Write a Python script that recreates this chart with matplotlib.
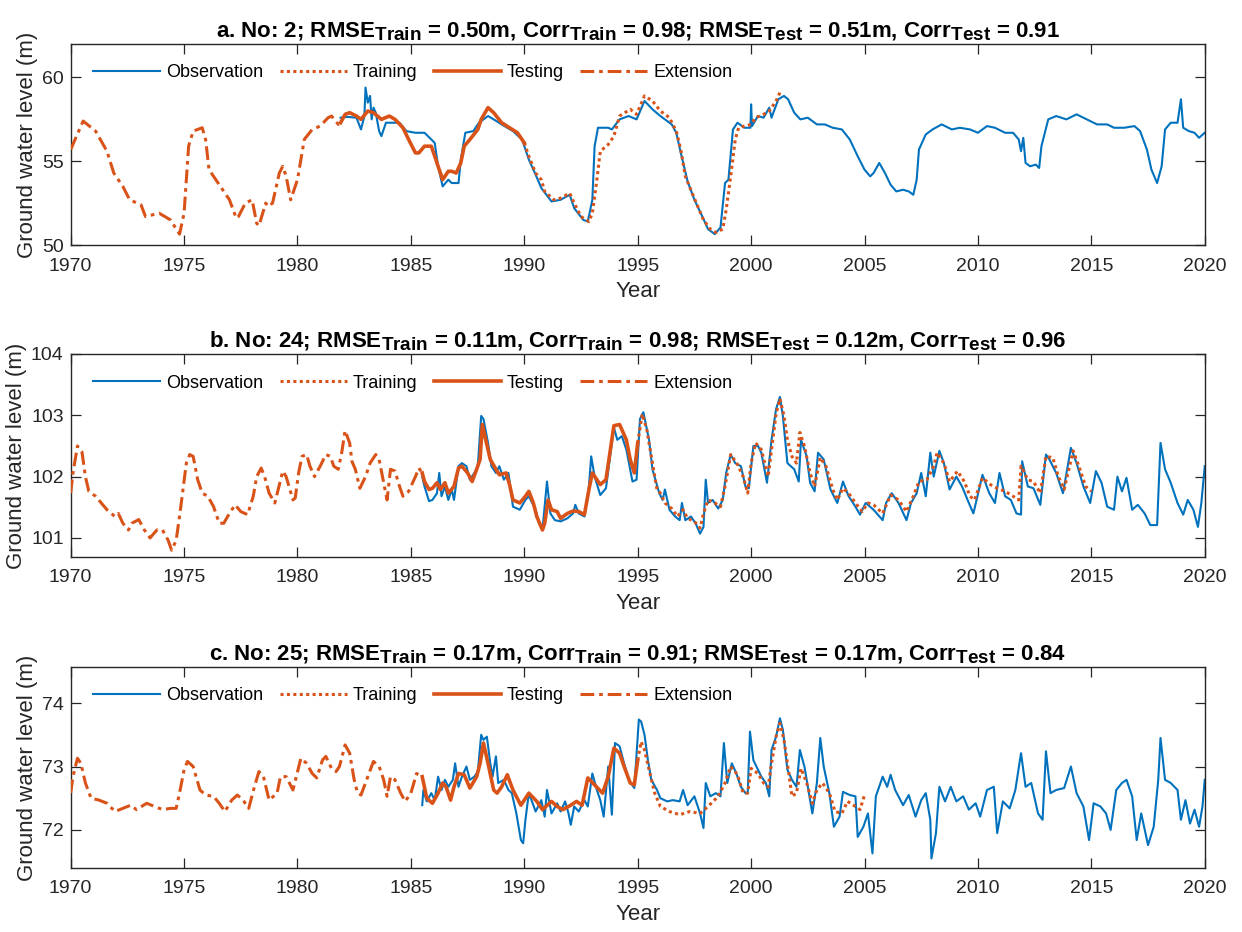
import matplotlib
matplotlib.use("Agg")
import matplotlib.pyplot as plt
import matplotlib._mathtext as _mt

# larger sub-scripts, closer to the reference rendering
_mt.SHRINK_FACTOR = 0.85

plt.rcParams['font.family'] = ['Liberation Sans', 'DejaVu Sans']
plt.rcParams['mathtext.fontset'] = 'custom'
plt.rcParams['mathtext.rm'] = 'Liberation Sans'
plt.rcParams['mathtext.bf'] = 'Liberation Sans:bold'

BLUE = '#0072BD'
ORANGE = '#D95319'
DARK = '#262626'

# ---------------- Panel a (well No: 2) ----------------
a_ext_year = [1970.0, 1970.55, 1971.1, 1971.6, 1971.9, 1972.3, 1972.6, 1973.1, 1973.3, 1973.9, 1974.4, 1974.8,
              1975.0, 1975.2, 1975.4, 1975.6, 1975.8, 1975.95, 1976.1, 1976.4, 1976.8, 1977.0, 1977.3, 1977.4,
              1977.7, 1978.0, 1978.2, 1978.3, 1978.6, 1978.7, 1978.9, 1979.2, 1979.35, 1979.5, 1979.7, 1979.9,
              1980.0, 1980.3, 1980.65, 1981.0, 1981.35, 1981.5, 1981.8, 1981.9]
a_ext_val = [55.7, 57.4, 56.8, 55.6, 54.3, 53.5, 52.7, 52.4, 51.7, 51.9, 51.5, 50.65,
             51.9, 55.9, 56.8, 56.9, 57.0, 56.3, 54.5, 53.9, 53.1, 52.7, 51.6, 51.7,
             52.5, 52.7, 51.3, 51.15, 52.5, 52.3, 52.5, 54.3, 54.7, 54.1, 52.7, 53.5,
             53.9, 56.3, 56.9, 57.1, 57.6, 57.7, 57.2, 57.3]
a_test_year = [1981.9, 1982.1, 1982.3, 1982.6, 1982.8, 1983.1, 1983.35, 1983.7, 1984.05, 1984.3, 1984.65, 1984.9,
               1985.2, 1985.35, 1985.6, 1985.9, 1986.05, 1986.2, 1986.4, 1986.65, 1986.8, 1987.0, 1987.2, 1987.35,
               1987.6, 1987.95, 1988.1, 1988.4, 1988.65, 1989.0, 1989.35, 1989.7, 1990.0]
a_test_val = [57.3, 57.8, 57.9, 57.7, 57.5, 58.0, 57.9, 57.5, 57.7, 57.5, 57.0, 56.3,
              55.5, 55.5, 55.9, 55.9, 55.3, 54.7, 53.9, 54.4, 54.4, 54.3, 54.9, 55.9,
              56.3, 56.9, 57.5, 58.2, 57.9, 57.3, 57.0, 56.7, 56.1]
a_train_year = [1990.0, 1990.2, 1990.5, 1990.75, 1990.9, 1991.3, 1991.6, 1992.0, 1992.2, 1992.5, 1992.85, 1993.0,
                1993.2, 1993.35, 1993.7, 1993.95, 1994.2, 1994.67, 1994.95, 1995.3, 1995.65, 1996.0, 1996.4,
                1996.7, 1996.9, 1997.1, 1997.4, 1997.65, 1997.9, 1998.2, 1998.45, 1998.75, 1998.9, 1999.1,
                1999.3, 1999.45, 1999.7, 2000.0, 2000.2, 2000.55, 2000.8, 2001.1, 2001.27]
a_train_val = [56.1, 55.3, 54.3, 53.9, 53.2, 52.7, 52.8, 53.1, 52.5, 51.7, 51.4, 51.9,
               53.9, 55.6, 56.0, 56.5, 57.7, 58.1, 57.8, 58.9, 58.6, 58.0, 57.6,
               56.8, 55.7, 54.1, 53.1, 52.3, 51.5, 50.95, 50.75, 50.95, 52.1, 54.1,
               56.3, 57.0, 57.1, 57.2, 57.6, 57.8, 58.0, 58.6, 59.1]
a_obs_year = [1981.9, 1982.2, 1982.6, 1982.8, 1982.95, 1983.0, 1983.1, 1983.2, 1983.27, 1983.35, 1983.45, 1983.6,
              1983.7, 1983.9, 1984.1, 1984.5, 1984.8, 1985.2, 1985.6, 1985.9, 1986.05, 1986.2, 1986.4, 1986.65,
              1986.8, 1987.1, 1987.2, 1987.4, 1987.75, 1988.0, 1988.4, 1988.65, 1989.0, 1989.5, 1989.9, 1990.2,
              1990.5, 1990.75, 1991.2, 1991.6, 1992.0, 1992.2, 1992.6, 1992.8, 1993.0, 1993.1, 1993.25, 1993.7,
              1993.86, 1994.2, 1994.6, 1994.95, 1995.3, 1995.65, 1996.0, 1996.5, 1996.7, 1996.9, 1997.2, 1997.5,
              1997.85, 1998.1, 1998.4, 1998.65, 1998.85, 1999.0, 1999.2, 1999.4, 1999.7, 1999.97, 2000.0, 2000.04,
              2000.3, 2000.55, 2000.8, 2000.9, 2001.2, 2001.45, 2001.63, 2001.9, 2002.17, 2002.5, 2002.9, 2003.25,
              2003.6, 2004.0, 2004.35, 2004.7, 2005.0, 2005.25, 2005.4, 2005.65, 2005.9, 2006.15, 2006.4, 2006.7,
              2006.95, 2007.15, 2007.3, 2007.4, 2007.7, 2008.0, 2008.4, 2008.85, 2009.2, 2009.65, 2010.0, 2010.4,
              2010.75, 2011.2, 2011.55, 2011.8, 2011.9, 2012.0, 2012.1, 2012.3, 2012.55, 2012.7, 2012.8, 2013.1,
              2013.45, 2013.9, 2014.35, 2014.8, 2015.25, 2015.7, 2016.0, 2016.45, 2016.9, 2017.15, 2017.45, 2017.65,
              2017.9, 2018.1, 2018.25, 2018.5, 2018.8, 2018.95, 2019.05, 2019.3, 2019.55, 2019.75, 2020.0]
a_obs_val = [57.6, 57.65, 57.6, 56.9, 57.7, 59.4, 58.5, 58.9, 57.5, 58.2, 57.9, 56.8,
             56.5, 57.3, 57.3, 57.3, 56.8, 56.7, 56.7, 56.3, 56.1, 54.7, 53.5, 53.9,
             53.7, 53.7, 55.1, 56.7, 56.8, 57.3, 57.7, 57.5, 57.2, 56.8, 56.3, 55.1,
             54.2, 53.4, 52.6, 52.7, 53.0, 52.2, 51.5, 51.4, 52.7, 55.9, 57.0, 57.0,
             56.9, 57.5, 57.7, 57.5, 58.6, 58.1, 57.7, 57.2, 56.7, 55.5, 53.8, 52.7,
             51.7, 50.95, 50.65, 51.05, 53.7, 53.9, 56.9, 57.3, 57.0, 57.0, 58.4, 57.1,
             57.7, 57.6, 58.2, 57.6, 58.7, 58.9, 58.7, 57.9, 57.5, 57.6, 57.2, 57.2,
             57.0, 56.9, 56.3, 55.3, 54.5, 54.1, 54.3, 54.9, 54.3, 53.6, 53.2, 53.3,
             53.2, 53.0, 53.9, 55.7, 56.6, 56.9, 57.2, 56.9, 57.0, 56.9, 56.7, 57.1,
             57.0, 56.7, 56.7, 56.3, 55.6, 56.4, 54.9, 54.7, 54.8, 54.6, 55.9, 57.5,
             57.7, 57.5, 57.8, 57.5, 57.2, 57.2, 57.0, 57.0, 57.1, 56.8, 55.7, 54.5,
             53.7, 54.7, 56.9, 57.3, 57.3, 58.7, 57.0, 56.8, 56.7, 56.4, 56.7]

# ---------------- Panel b (well No: 24) ----------------
b_ext_year = [1970.0, 1970.1, 1970.3, 1970.5, 1970.65, 1970.8, 1971.1, 1971.35, 1971.6, 1971.95, 1972.1, 1972.3,
              1972.55, 1972.7, 1973.0, 1973.25, 1973.5, 1973.8, 1974.05, 1974.3, 1974.45, 1974.65, 1974.8, 1975.1,
              1975.25, 1975.4, 1975.6, 1975.8, 1976.05, 1976.3, 1976.55, 1976.75, 1977.0, 1977.25, 1977.5, 1977.8,
              1978.05, 1978.2, 1978.4, 1978.55, 1978.75, 1979.0, 1979.15, 1979.35, 1979.5, 1979.8, 1979.9, 1980.05,
              1980.2, 1980.4, 1980.55, 1980.75, 1981.0, 1981.25, 1981.45, 1981.6, 1981.8, 1981.95, 1982.1, 1982.3,
              1982.4, 1982.55, 1982.75, 1983.0, 1983.2, 1983.45, 1983.6, 1983.8, 1983.95, 1984.1, 1984.3, 1984.5,
              1984.65, 1984.9, 1985.2, 1985.35, 1985.5]
b_ext_val = [101.73, 102.06, 102.5, 102.4, 102.0, 101.76, 101.68, 101.57, 101.46, 101.35, 101.4, 101.24,
             101.13, 101.24, 101.3, 101.13, 101.0, 101.13, 101.13, 100.96, 100.8, 100.96, 101.35, 102.22,
             102.36, 102.33, 101.95, 101.73, 101.68, 101.51, 101.24, 101.24, 101.4, 101.54, 101.43, 101.38,
             101.68, 102.0, 102.14, 102.0, 101.73, 101.57, 101.79, 102.09, 102.0, 101.62, 101.65, 102.06,
             102.33, 102.36, 102.17, 102.0, 102.17, 102.36, 102.33, 102.17, 102.12, 102.39, 102.75, 102.55,
             102.25, 102.12, 101.81, 102.0, 102.22, 102.36, 102.28, 101.9, 101.62, 102.12, 102.09, 101.84,
             101.68, 101.76, 102.0, 102.14, 102.06]
b_test_year = [1985.5, 1985.6, 1985.8, 1985.95, 1986.15, 1986.3, 1986.5, 1986.65, 1986.9, 1987.1, 1987.25, 1987.5,
               1987.7, 1987.9, 1988.05, 1988.15, 1988.3, 1988.5, 1988.75, 1988.9, 1989.2, 1989.35, 1989.5, 1989.8,
               1990.05, 1990.2, 1990.4, 1990.55, 1990.8, 1990.9, 1991.05, 1991.2, 1991.45, 1991.6, 1991.9, 1992.15,
               1992.4, 1992.65, 1992.85, 1993.0, 1993.2, 1993.35, 1993.6, 1993.95, 1994.2, 1994.5, 1994.67, 1994.85,
               1995.0]
b_test_val = [102.06, 101.92, 101.79, 101.81, 101.9, 101.79, 101.9, 101.73, 101.84, 102.14, 102.17, 102.06,
              101.92, 102.12, 102.28, 102.85, 102.6, 102.28, 102.12, 102.03, 102.06, 101.87, 101.62, 101.57,
              101.68, 101.76, 101.57, 101.35, 101.13, 101.24, 101.62, 101.46, 101.43, 101.32, 101.4, 101.44,
              101.43, 101.38, 101.79, 102.06, 101.95, 101.87, 101.95, 102.83, 102.85, 102.6, 102.28, 102.06,
              102.55]
b_train_year = [1995.0, 1995.2, 1995.4, 1995.6, 1995.85, 1996.0, 1996.2, 1996.5, 1996.75, 1997.0, 1997.2, 1997.5,
                1997.75, 1997.9, 1998.1, 1998.4, 1998.65, 1998.85, 1999.1, 1999.4, 1999.65, 1999.85, 2000.0, 2000.2,
                2000.45, 2000.75, 2000.9, 2001.1, 2001.27, 2001.45, 2001.6, 2001.8, 2002.0, 2002.15, 2002.35, 2002.6,
                2002.8, 2003.05, 2003.3, 2003.6, 2003.8, 2004.05, 2004.3, 2004.6, 2004.9, 2005.15, 2005.4, 2005.8,
                2006.15, 2006.5, 2006.85, 2007.15, 2007.4, 2007.75, 2008.05, 2008.2, 2008.5, 2008.75, 2009.1, 2009.4,
                2009.65, 2009.85, 2010.2, 2010.55, 2010.85, 2011.2, 2011.55, 2011.8, 2011.9, 2012.2, 2012.45, 2012.75,
                2013.0, 2013.3, 2013.55, 2013.8, 2014.2, 2014.45, 2014.75, 2015.0]
b_train_val = [102.55, 103.02, 102.77, 102.33, 101.79, 101.73, 101.57, 101.48, 101.35, 101.46, 101.32, 101.27,
               101.16, 101.4, 101.62, 101.57, 101.51, 101.84, 102.36, 102.2, 102.0, 101.73, 102.22, 102.55,
               102.44, 102.0, 102.44, 103.02, 103.27, 102.99, 102.6, 102.33, 102.22, 102.72, 102.5, 102.06,
               101.84, 102.31, 102.17, 101.79, 101.62, 101.81, 101.73, 101.57, 101.43, 101.57, 101.54, 101.4,
               101.7, 101.62, 101.43, 101.68, 101.92, 101.95, 102.17, 102.39, 102.22, 101.92, 102.09, 101.92,
               101.68, 101.62, 101.98, 101.87, 101.81, 101.76, 101.68, 101.62, 102.17, 101.95, 101.92, 101.73,
               102.33, 102.31, 102.0, 101.79, 102.42, 102.17, 101.84, 101.76]
b_obs_year = [1985.5, 1985.6, 1985.8, 1985.95, 1986.15, 1986.25, 1986.35, 1986.5, 1986.65, 1986.8, 1986.9, 1987.1,
              1987.25, 1987.45, 1987.6, 1987.8, 1987.95, 1988.1, 1988.2, 1988.4, 1988.55, 1988.75, 1988.9, 1989.1,
              1989.3, 1989.5, 1989.8, 1990.05, 1990.2, 1990.5, 1990.65, 1990.8, 1991.0, 1991.15, 1991.35, 1991.6,
              1991.9, 1992.15, 1992.25, 1992.4, 1992.65, 1992.85, 1992.95, 1993.1, 1993.35, 1993.6, 1993.95, 1994.1,
              1994.3, 1994.5, 1994.77, 1994.95, 1995.1, 1995.25, 1995.5, 1995.65, 1995.95, 1996.1, 1996.2, 1996.4,
              1996.65, 1996.85, 1996.95, 1997.1, 1997.35, 1997.55, 1997.75, 1997.9, 1998.0, 1998.1, 1998.3, 1998.55,
              1998.75, 1998.9, 1999.1, 1999.3, 1999.55, 1999.75, 1999.9, 2000.1, 2000.3, 2000.45, 2000.7, 2000.9,
              2001.1, 2001.27, 2001.4, 2001.6, 2001.9, 2002.1, 2002.2, 2002.45, 2002.6, 2002.8, 2002.95, 2003.2,
              2003.5, 2003.8, 2004.05, 2004.3, 2004.6, 2004.8, 2005.05, 2005.4, 2005.8, 2005.95, 2006.2, 2006.5,
              2006.85, 2007.05, 2007.3, 2007.5, 2007.7, 2007.9, 2008.05, 2008.3, 2008.5, 2008.75, 2009.05, 2009.3,
              2009.6, 2009.8, 2010.2, 2010.5, 2010.75, 2010.95, 2011.2, 2011.45, 2011.7, 2011.9, 2011.95, 2012.2,
              2012.45, 2012.75, 2013.0, 2013.15, 2013.45, 2013.75, 2014.1, 2014.35, 2014.65, 2014.95, 2015.2, 2015.45,
              2015.7, 2016.0, 2016.15, 2016.35, 2016.55, 2016.8, 2017.05, 2017.35, 2017.6, 2017.9, 2018.05, 2018.25,
              2018.5, 2018.8, 2019.05, 2019.25, 2019.5, 2019.7, 2019.85, 2020.0]
b_obs_val = [102.0, 101.84, 101.6, 101.62, 101.73, 102.06, 101.68, 101.84, 101.62, 101.79, 101.62, 102.17,
             102.22, 102.17, 101.95, 102.06, 102.17, 102.99, 102.94, 102.55, 102.17, 102.06, 102.17, 101.95,
             102.06, 101.51, 101.46, 101.62, 101.68, 101.46, 101.24, 101.13, 101.92, 101.4, 101.29, 101.27,
             101.32, 101.4, 101.54, 101.4, 101.35, 101.84, 102.33, 102.0, 101.7, 101.81, 102.8, 102.6,
             102.66, 102.44, 101.92, 101.95, 102.94, 103.05, 102.6, 102.12, 101.73, 101.62, 101.79, 101.46,
             101.35, 101.29, 101.57, 101.29, 101.35, 101.24, 101.07, 101.18, 101.95, 101.57, 101.62, 101.48,
             101.62, 102.06, 102.36, 102.22, 102.17, 101.84, 101.81, 102.5, 102.5, 102.39, 101.9, 102.6,
             103.1, 103.3, 102.99, 102.22, 102.12, 101.92, 102.6, 102.33, 101.9, 101.76, 102.39, 102.28,
             101.79, 101.57, 101.92, 101.68, 101.51, 101.38, 101.57, 101.46, 101.29, 101.57, 101.73, 101.57,
             101.29, 101.57, 101.73, 102.06, 101.68, 102.39, 102.0, 102.42, 102.22, 101.79, 102.0, 101.84,
             101.57, 101.4, 102.03, 101.73, 101.57, 102.06, 101.68, 101.62, 101.4, 101.38, 102.25, 101.84,
             101.81, 101.54, 102.36, 102.28, 102.06, 101.73, 102.47, 102.22, 101.84, 101.57, 102.09, 101.9,
             101.51, 101.46, 102.0, 101.76, 101.98, 101.46, 101.54, 101.4, 101.21, 101.21, 102.55, 102.12,
             101.9, 101.57, 101.38, 101.62, 101.46, 101.18, 101.57, 102.17]

# ---------------- Panel c (well No: 25) ----------------
c_ext_year = [1970.0, 1970.1, 1970.3, 1970.45, 1970.65, 1970.9, 1971.25, 1971.6, 1971.95, 1972.3, 1972.65, 1972.9,
              1973.35, 1973.7, 1974.05, 1974.4, 1974.65, 1974.8, 1975.0, 1975.15, 1975.4, 1975.7, 1975.95, 1976.3,
              1976.55, 1976.8, 1977.1, 1977.35, 1977.6, 1977.85, 1978.1, 1978.3, 1978.5, 1978.75, 1979.1, 1979.25,
              1979.5, 1979.8, 1980.15, 1980.4, 1980.65, 1980.85, 1981.1, 1981.25, 1981.5, 1981.7, 1981.85, 1982.1,
              1982.3, 1982.5, 1982.65, 1982.8, 1983.1, 1983.35, 1983.6, 1983.8, 1983.95, 1984.1, 1984.3, 1984.55,
              1984.75, 1985.0, 1985.25, 1985.5]
c_ext_val = [72.58, 72.84, 73.13, 73.05, 72.74, 72.5, 72.47, 72.42, 72.29, 72.34, 72.39, 72.32,
             72.42, 72.37, 72.32, 72.34, 72.34, 72.58, 72.95, 73.08, 73.0, 72.63, 72.55, 72.53,
             72.42, 72.29, 72.47, 72.55, 72.47, 72.34, 72.68, 72.92, 72.84, 72.47, 72.58, 72.84,
             72.84, 72.63, 73.13, 73.05, 72.89, 72.82, 73.1, 73.16, 72.97, 72.92, 73.0, 73.34,
             73.21, 72.79, 72.58, 72.55, 72.84, 73.08, 73.0, 72.79, 72.53, 72.84, 72.79, 72.58,
             72.45, 72.58, 72.89, 72.84]
c_test_year = [1985.5, 1985.7, 1985.95, 1986.2, 1986.4, 1986.55, 1986.75, 1986.9, 1987.1, 1987.35, 1987.6, 1987.9,
               1988.05, 1988.2, 1988.4, 1988.65, 1988.8, 1989.0, 1989.25, 1989.5, 1989.85, 1990.2, 1990.55, 1990.8,
               1991.2, 1991.45, 1991.7, 1992.05, 1992.3, 1992.55, 1992.8, 1993.1, 1993.45, 1993.7, 1993.95, 1994.2,
               1994.4, 1994.67, 1994.85, 1995.0]
c_test_val = [72.84, 72.5, 72.42, 72.58, 72.74, 72.68, 72.47, 72.68, 72.89, 72.87, 72.66, 72.84,
              73.05, 73.37, 73.05, 72.63, 72.58, 72.68, 72.87, 72.63, 72.39, 72.58, 72.45, 72.32,
              72.45, 72.37, 72.32, 72.39, 72.45, 72.39, 72.82, 72.71, 72.58, 72.84, 73.29, 73.21,
              73.0, 72.74, 72.71, 73.1]
c_train_year = [1995.0, 1995.15, 1995.3, 1995.5, 1995.75, 1996.0, 1996.4, 1996.85, 1997.3, 1997.75, 1998.1, 1998.55,
                1998.85, 1999.1, 1999.4, 1999.65, 1999.85, 2000.0, 2000.3, 2000.55, 2000.75, 2000.9, 2001.1, 2001.27,
                2001.45, 2001.6, 2001.8, 2002.0, 2002.2, 2002.45, 2002.7, 2002.9, 2003.15, 2003.45, 2003.7, 2004.0,
                2004.25, 2004.6, 2004.8, 2005.0]
c_train_val = [73.1, 73.39, 73.26, 72.95, 72.58, 72.37, 72.29, 72.24, 72.29, 72.26, 72.37, 72.53,
               72.74, 73.0, 72.87, 72.58, 72.58, 72.97, 72.89, 72.74, 72.68, 73.05, 73.47, 73.68,
               73.42, 73.05, 72.53, 72.58, 72.97, 72.74, 72.42, 72.63, 72.74, 72.58, 72.29, 72.26,
               72.45, 72.37, 72.32, 72.55]
c_obs_year = [1985.5, 1985.55, 1985.7, 1985.9, 1986.05, 1986.2, 1986.35, 1986.5, 1986.65, 1986.85, 1986.95, 1987.1,
              1987.25, 1987.45, 1987.6, 1987.8, 1987.95, 1988.1, 1988.2, 1988.35, 1988.5, 1988.6, 1988.75, 1988.85,
              1989.1, 1989.3, 1989.45, 1989.65, 1989.85, 1989.95, 1990.05, 1990.2, 1990.4, 1990.5, 1990.75, 1990.9,
              1991.0, 1991.2, 1991.45, 1991.6, 1991.8, 1991.95, 1992.05, 1992.2, 1992.4, 1992.65, 1992.8, 1993.0,
              1993.2, 1993.35, 1993.5, 1993.7, 1993.86, 1994.0, 1994.2, 1994.4, 1994.6, 1994.85, 1995.05, 1995.15,
              1995.3, 1995.45, 1995.6, 1995.85, 1996.0, 1996.3, 1996.55, 1996.85, 1997.0, 1997.2, 1997.5, 1997.75,
              1997.9, 1998.0, 1998.2, 1998.45, 1998.65, 1998.8, 1998.95, 1999.15, 1999.35, 1999.55, 1999.75, 1999.85,
              1999.95, 2000.1, 2000.3, 2000.45, 2000.65, 2000.8, 2000.9, 2001.1, 2001.27, 2001.4, 2001.6, 2001.8,
              2002.0, 2002.15, 2002.35, 2002.55, 2002.7, 2002.9, 2003.05, 2003.2, 2003.45, 2003.65, 2003.9, 2004.05,
              2004.35, 2004.6, 2004.7, 2004.95, 2005.15, 2005.35, 2005.5, 2005.8, 2006.0, 2006.15, 2006.35, 2006.7,
              2006.95, 2007.25, 2007.5, 2007.7, 2007.9, 2007.95, 2008.15, 2008.3, 2008.55, 2008.8, 2009.05, 2009.35,
              2009.6, 2009.9, 2010.1, 2010.4, 2010.7, 2010.85, 2011.1, 2011.4, 2011.65, 2011.9, 2012.1, 2012.35,
              2012.65, 2012.85, 2013.0, 2013.2, 2013.45, 2013.8, 2014.1, 2014.35, 2014.65, 2014.9, 2015.1, 2015.4,
              2015.65, 2015.85, 2016.1, 2016.35, 2016.55, 2016.8, 2017.0, 2017.2, 2017.5, 2017.75, 2017.95, 2018.05,
              2018.25, 2018.5, 2018.8, 2018.95, 2019.15, 2019.35, 2019.55, 2019.75, 2019.9, 2020.0]
c_obs_val = [72.39, 72.63, 72.45, 72.58, 72.47, 72.84, 72.63, 72.79, 72.68, 72.79, 73.05, 72.68,
             72.84, 73.0, 72.79, 72.84, 72.92, 73.5, 73.42, 73.47, 73.05, 72.84, 73.16, 72.74,
             72.79, 72.63, 72.58, 72.26, 71.84, 71.79, 72.16, 72.58, 72.39, 72.29, 72.47, 72.21,
             72.63, 72.26, 72.42, 72.29, 72.45, 72.26, 72.08, 72.37, 72.29, 72.47, 72.37, 72.89,
             72.63, 72.47, 72.21, 73.0, 72.24, 73.37, 73.32, 73.05, 72.79, 72.66, 73.74, 73.71,
             73.5, 73.1, 72.79, 72.63, 72.5, 72.45, 72.47, 72.45, 72.63, 72.39, 72.53, 72.26,
             72.03, 72.74, 72.53, 72.58, 72.53, 73.37, 72.74, 73.05, 72.89, 72.68, 72.58, 72.58,
             73.55, 73.1, 72.95, 72.84, 72.74, 72.53, 73.26, 73.47, 73.76, 73.58, 72.95, 72.79,
             72.68, 73.26, 73.0, 72.58, 72.26, 72.74, 73.45, 73.0, 72.58, 72.05, 72.21, 72.6,
             72.55, 72.53, 71.89, 72.05, 72.26, 71.63, 72.53, 72.84, 72.68, 72.87, 72.63, 72.39,
             72.55, 72.21, 72.47, 72.58, 72.16, 71.55, 71.95, 72.68, 72.45, 72.68, 72.45, 72.53,
             72.32, 72.42, 72.21, 72.63, 72.68, 71.95, 72.45, 72.34, 72.63, 73.21, 72.68, 72.74,
             72.26, 72.16, 73.24, 72.58, 72.63, 72.66, 73.0, 72.58, 72.37, 71.84, 72.42, 72.37,
             72.26, 72.0, 72.63, 72.74, 72.79, 72.53, 71.84, 72.26, 71.76, 72.05, 72.79, 73.45,
             72.79, 72.74, 72.63, 72.16, 72.47, 72.1, 72.32, 72.05, 72.37, 72.79]

panels = [
    dict(title=r'a. No: 2; RMSE$_\mathbf{Train}$ = 0.50m, Corr$_\mathbf{Train}$ = 0.98; '
               r'RMSE$_\mathbf{Test}$ = 0.51m, Corr$_\mathbf{Test}$ = 0.91',
         obs=(a_obs_year, a_obs_val), train=(a_train_year, a_train_val),
         test=(a_test_year, a_test_val), ext=(a_ext_year, a_ext_val),
         ylim=(50, 62), yticks=[50, 55, 60], rect=[0.0569, 0.7371, 0.9131, 0.2157]),
    dict(title=r'b. No: 24; RMSE$_\mathbf{Train}$ = 0.11m, Corr$_\mathbf{Train}$ = 0.98; '
               r'RMSE$_\mathbf{Test}$ = 0.12m, Corr$_\mathbf{Test}$ = 0.96',
         obs=(b_obs_year, b_obs_val), train=(b_train_year, b_train_val),
         test=(b_test_year, b_test_val), ext=(b_ext_year, b_ext_val),
         ylim=(100.69, 104), yticks=[101, 102, 103, 104], rect=[0.0569, 0.4024, 0.9131, 0.2178]),
    dict(title=r'c. No: 25; RMSE$_\mathbf{Train}$ = 0.17m, Corr$_\mathbf{Train}$ = 0.91; '
               r'RMSE$_\mathbf{Test}$ = 0.17m, Corr$_\mathbf{Test}$ = 0.84',
         obs=(c_obs_year, c_obs_val), train=(c_train_year, c_train_val),
         test=(c_test_year, c_test_val), ext=(c_ext_year, c_ext_val),
         ylim=(71.4, 74.57), yticks=[72, 73, 74], rect=[0.0569, 0.0687, 0.9131, 0.2157]),
]

fig = plt.figure(figsize=(12.42, 9.32), dpi=100)

for p in panels:
    ax = fig.add_axes(p['rect'])
    ax.plot(*p['obs'], color=BLUE, lw=1.5, label='Observation', zorder=2)
    ax.plot(*p['train'], color=ORANGE, lw=2.2, linestyle=(0, (1, 1.1)), label='Training', zorder=3)
    ax.plot(*p['test'], color=ORANGE, lw=2.6, linestyle='-', label='Testing', zorder=3)
    ax.plot(*p['ext'], color=ORANGE, lw=2.2, linestyle=(0, (4.5, 1.6, 1.2, 1.6)), label='Extension', zorder=3)
    ax.set_xlim(1970, 2020)
    ax.set_ylim(*p['ylim'])
    ax.set_xticks(range(1970, 2021, 5))
    ax.set_yticks(p['yticks'])
    ax.tick_params(direction='in', length=7, width=0.9, top=True, right=True,
                   labelsize=14, colors=DARK)
    ax.tick_params(axis='x', pad=9)
    ax.tick_params(axis='y', pad=5)
    for s in ax.spines.values():
        s.set_color(DARK)
        s.set_linewidth(1.0)
    ax.set_xlabel('Year', fontsize=16, color=DARK, labelpad=5)
    ax.set_ylabel('Ground water level (m)', fontsize=16, color=DARK, labelpad=3)
    ax.set_title(p['title'], fontsize=16, fontweight='bold', color='black', pad=5)
    ax.legend(loc='center left', bbox_to_anchor=(0.02, 0.857), ncol=4, frameon=False,
              fontsize=13, handlelength=3.7, handletextpad=0.35, columnspacing=0.9,
              borderpad=0, borderaxespad=0)

fig.savefig('out.png', dpi=100)
